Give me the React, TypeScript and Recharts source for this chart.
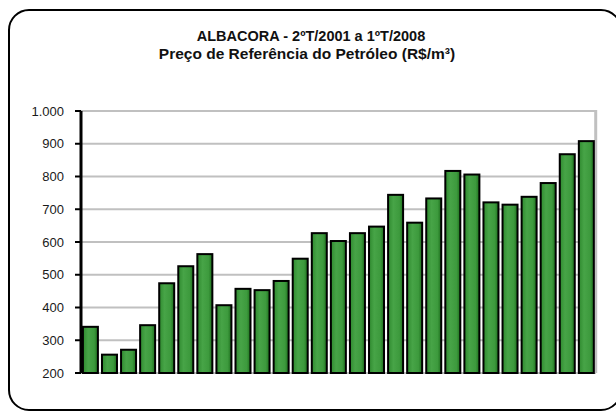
import React from "react";
import { BarChart, Bar, XAxis, YAxis, CartesianGrid } from "recharts";

const quarters = [
  "2T/2001", "3T/2001", "4T/2001",
  "1T/2002", "2T/2002", "3T/2002", "4T/2002",
  "1T/2003", "2T/2003", "3T/2003", "4T/2003",
  "1T/2004", "2T/2004", "3T/2004", "4T/2004",
  "1T/2005", "2T/2005", "3T/2005", "4T/2005",
  "1T/2006", "2T/2006", "3T/2006", "4T/2006",
  "1T/2007", "2T/2007", "3T/2007", "4T/2007",
];

const prices = [
  341, 256, 271, 346, 474, 526, 563, 407, 457, 453, 481, 549,
  627, 603, 627, 647, 744, 659, 733, 817, 806, 721, 714, 738, 780, 868, 908,
];

const yTicks = [200, 300, 400, 500, 600, 700, 800, 900, 1000];

const data = quarters.map((q, i) => ({ q, price: prices[i] }));

const fmt = (v: number) => (v >= 1000 ? v.toLocaleString("de-DE") : String(v));

const GAP = 0.1; // barCategoryGap as a fraction of the band

// bar rectangle; the last one also draws the gray right border of the plot
function BarShape(p: any) {
  const { x, y, width, height, index, background } = p;
  let border = null;
  if (index === data.length - 1 && background) {
    const band = width / (1 - 2 * GAP);
    const rx = x + width + band * GAP;
    border = (
      <line
        x1={rx}
        x2={rx}
        y1={background.y - 1}
        y2={background.y + background.height}
        stroke="#c0c0c0"
        strokeWidth={3}
      />
    );
  }
  return (
    <g>
      {border}
      <rect x={x} y={y} width={width} height={height} fill="url(#barFill)" stroke="#000" strokeWidth={2} />
    </g>
  );
}

export default function App() {
  return (
    <div
      style={{
        position: "absolute",
        left: 0,
        top: 0,
        width: 616,
        height: 412,
        overflow: "hidden",
        background: "#fff",
        fontFamily: "'Liberation Sans', Arial, sans-serif",
      }}
    >
      <svg width={616} height={412} style={{ position: "absolute", left: 0, top: 0 }}>
        <rect x={9} y={10} width={612} height={400} rx={20} fill="none" stroke="#000" strokeWidth={2} />
      </svg>
      <div
        style={{
          position: "absolute",
          left: 0,
          width: 622,
          top: 27,
          textAlign: "center",
          fontWeight: "bold",
          fontSize: 14.5,
          lineHeight: "18px",
          color: "#111",
        }}
      >
        <div>ALBACORA - 2ºT/2001 a 1ºT/2008</div>
        <div style={{ fontSize: 15.5, marginLeft: -8 }}>Preço de Referência do Petróleo (R$/m³)</div>
      </div>
      <div style={{ position: "absolute", left: 0, top: 0 }}>
        <BarChart
          width={616}
          height={412}
          data={data}
          margin={{ top: 111, right: 20, bottom: 39, left: 21 }}
          barCategoryGap={`${GAP * 100}%`}
        >
          <defs>
            <linearGradient id="barFill" x1="0" y1="0" x2="1" y2="0">
              <stop offset="0%" stopColor="#2f8a2f" />
              <stop offset="35%" stopColor="#47a447" />
              <stop offset="75%" stopColor="#3d9a3d" />
              <stop offset="100%" stopColor="#1d6e1d" />
            </linearGradient>
          </defs>
          <CartesianGrid vertical={false} stroke="#c0c0c0" strokeWidth={2} />
          <XAxis dataKey="q" hide />
          <YAxis
            domain={[200, 1000]}
            ticks={yTicks}
            interval={0}
            width={60}
            tickFormatter={fmt}
            tickSize={6}
            tickMargin={11}
            axisLine={{ stroke: "#000", strokeWidth: 3 }}
            tickLine={{ stroke: "#000", strokeWidth: 2 }}
            tick={{ fill: "#1a1a1a", fontSize: 13, fontFamily: "'Liberation Sans', Arial, sans-serif" }}
          />
          <Bar
            dataKey="price"
            shape={BarShape}
            isAnimationActive={false}
          />
        </BarChart>
      </div>
    </div>
  );
}
